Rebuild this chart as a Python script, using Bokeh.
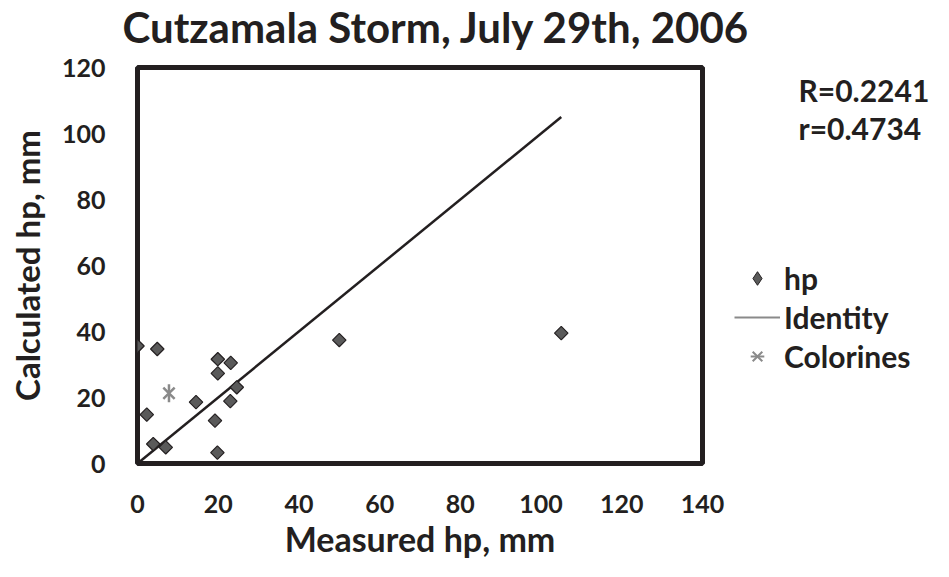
from bokeh.plotting import figure
from bokeh.models import Range1d, Legend, LegendItem, FixedTicker, Title, Label
from bokeh.layouts import row, column
from bokeh.embed import file_html
from bokeh.resources import INLINE
import numpy as np

# ---- data ----
measured = [0, 4.9, 19.9, 23.1, 19.9, 24.6, 14.5, 23.0, 2.3, 19.2, 3.9, 7.0, 19.8, 50.0, 105.0]
calculated = [35.6, 34.7, 31.6, 30.5, 27.3, 23.1, 18.6, 18.9, 14.8, 13.0, 5.9, 4.9, 3.3, 37.4, 39.5]
identity_x = [0, 105]
identity_y = [0, 105]
colorines_x = [7.8]
colorines_y = [21.3]
x_ticks = [0, 20, 40, 60, 80, 100, 120, 140]
y_ticks = [0, 20, 40, 60, 80, 100, 120]
title_text = "Cutzamala Storm, July 29th,  2006"
x_label = "Measured hp, mm"
y_label = "Calculated hp, mm"
stats = ["R=0.2241", "r=0.4734"]
series_names = ["hp", "Identity", "Colorines"]

FONT = "Lato"
INK = "#231f20"
GRAY = "#8a8a8a"
DIAMOND = "#5a5a5a"


def blank_fig(w, h, **kw):
    f = figure(width=w, height=h, output_backend="svg", toolbar_location=None,
               x_range=Range1d(0, 1), y_range=Range1d(0, 1),
               x_axis_location=None, y_axis_location=None, **kw)
    f.outline_line_color = None
    f.xgrid.visible = False
    f.ygrid.visible = False
    f.background_fill_color = "white"
    f.border_fill_color = "white"
    return f


# ---------------- title strip ----------------
t = blank_fig(933, 51, min_border_left=137, min_border_right=231,
              min_border_top=0, min_border_bottom=0)
t.add_layout(Title(text=title_text, text_font=FONT, text_font_style="bold",
                   text_font_size="42px", text_color=INK, align="left",
                   offset=-15, standoff=0), "above")

# ---------------- main chart ----------------
p = figure(width=730, height=510, output_backend="svg", toolbar_location=None,
           x_range=Range1d(0, 140), y_range=Range1d(0, 120),
           min_border_left=137, min_border_right=28, min_border_top=16, min_border_bottom=98)
p.outline_line_color = INK
p.outline_line_width = 5
p.xgrid.visible = False
p.ygrid.visible = False
p.background_fill_color = "white"
p.border_fill_color = "white"

for ax in (p.xaxis[0], p.yaxis[0]):
    ax.axis_line_color = None
    ax.major_tick_line_color = None
    ax.minor_tick_line_color = None
    ax.major_label_text_font = FONT
    ax.major_label_text_font_style = "bold"
    ax.major_label_text_font_size = "25px"
    ax.major_label_text_color = INK
    ax.axis_label_text_font = FONT
    ax.axis_label_text_font_style = "bold"
    ax.axis_label_text_color = INK
p.xaxis[0].axis_label_text_font_size = "34px"
p.yaxis[0].axis_label_text_font_size = "33px"
p.xaxis[0].ticker = FixedTicker(ticks=x_ticks)
p.yaxis[0].ticker = FixedTicker(ticks=y_ticks)
p.xaxis[0].major_label_standoff = 25
p.yaxis[0].major_label_standoff = 26
p.xaxis[0].axis_label = x_label
p.yaxis[0].axis_label = y_label
p.xaxis[0].axis_label_standoff = 2
p.yaxis[0].axis_label_standoff = 12

p.line(identity_x, identity_y, line_color=INK, line_width=2.5)
p.scatter(measured, calculated, marker="square", angle=np.pi / 4, size=9.5,
          fill_color=DIAMOND, line_color=INK, line_width=1.2)
p.scatter(colorines_x, colorines_y, marker="x", size=16, line_color=GRAY, line_width=2.5)
p.scatter(colorines_x, colorines_y, marker="dash", angle=np.pi / 2, size=18,
          line_color=GRAY, line_width=2.5)

# ---------------- side panel: statistics + legend ----------------
q = blank_fig(203, 510, min_border_left=0, min_border_right=0,
              min_border_top=0, min_border_bottom=0)

nan2 = [np.nan, np.nan]
lg_hp = q.scatter(nan2, nan2, marker="diamond", size=13, fill_color=DIAMOND,
                  line_color=INK, line_width=1)
lg_id = q.line(nan2, nan2, line_color=GRAY, line_width=1.8)
lg_cx = q.scatter(nan2, nan2, marker="x", size=11, line_color=GRAY, line_width=2)
lg_cv = q.scatter(nan2, nan2, marker="dash", angle=np.pi / 2, size=13,
                  line_color=GRAY, line_width=2)

legend = Legend(items=[LegendItem(label=series_names[0], renderers=[lg_hp]),
                       LegendItem(label=series_names[1], renderers=[lg_id]),
                       LegendItem(label=series_names[2], renderers=[lg_cx, lg_cv])],
                location=(4, 89), orientation="vertical",
                glyph_width=46, glyph_height=34, label_height=34, spacing=3,
                label_standoff=4, padding=0, margin=0,
                border_line_color=None, background_fill_alpha=0,
                label_text_font=FONT, label_text_font_style="bold",
                label_text_font_size="30px", label_text_color=INK)
q.add_layout(legend)

for txt, yy in zip(stats, [374, 336]):
    q.add_layout(Label(text=txt, x=68, y=yy, x_units="screen", y_units="screen",
                       text_font=FONT, text_font_style="bold", text_font_size="30px",
                       text_color=INK, text_align="left", text_baseline="middle"))

layout = column(t, row(p, q))
open("out.html", "w").write(file_html(layout, INLINE))
